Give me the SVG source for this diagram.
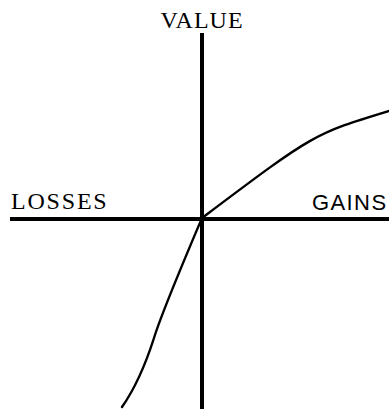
<svg xmlns="http://www.w3.org/2000/svg" width="389" height="410" viewBox="0 0 389 410">
  <style>
    .axis { stroke: #000; stroke-width: 4; fill: none; }
    .curve { stroke: #000; stroke-width: 2.4; fill: none; stroke-linecap: round; }
    .lbl { font-family: "Liberation Serif", "Times New Roman", serif; font-size: 24px; fill: #000; }
    .lbl2 { font-family: "Liberation Sans", Arial, sans-serif; font-size: 22px; fill: #000; }
  </style>
  <rect width="389" height="410" fill="#fff"/>
  <g id="connectors">
    <line id="value-axis" class="axis" x1="202" y1="33" x2="202" y2="409" stroke-width="4.5"/>
    <line id="gains-axis" class="axis" x1="10" y1="219" x2="389" y2="219"/>
    <path id="value-curve" class="curve" d="M122,407 C136,387 146,363 154,338 C162,312 185,258 202,218 C315,133 313,134 392,110"/>
  </g>
  <g id="label-value">
    <text class="lbl" x="202" y="28" text-anchor="middle" letter-spacing="1">VALUE</text>
  </g>
  <g id="label-losses">
    <text class="lbl" x="11" y="209" letter-spacing="1.8">LOSSES</text>
  </g>
  <g id="label-gains">
    <text class="lbl2" x="312" y="210" letter-spacing="1.4">GAINS</text>
  </g>
</svg>
